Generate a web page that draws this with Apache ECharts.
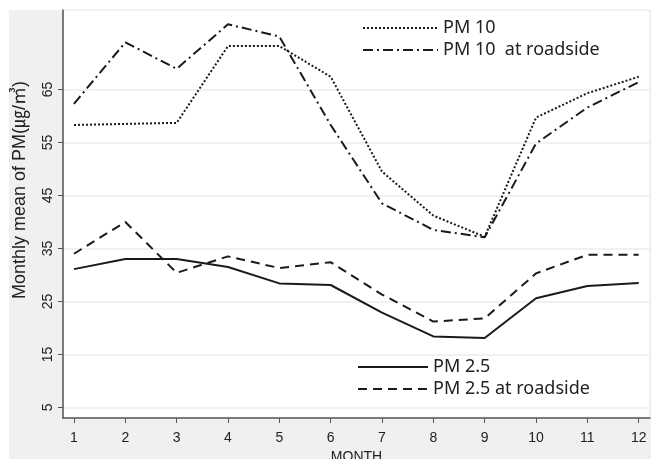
<!DOCTYPE html>
<html>
<head>
<meta charset="utf-8">
<script src="https://cdn.jsdelivr.net/npm/echarts@6/dist/echarts.min.js"></script>
<style>
  html, body { margin: 0; padding: 0; background: #fff; }
  #chart { width: 651px; height: 459px; }
</style>
</head>
<body>
<div id="chart"></div>
<script>
const months = [1, 2, 3, 4, 5, 6, 7, 8, 9, 10, 11, 12];
const yTicks = [5, 15, 25, 35, 45, 55, 65];
const pm10 = [58.3, 58.5, 58.7, 73.2, 73.2, 67.4, 49.5, 41.2, 37.2, 59.7, 64.3, 67.4];
const pm10Road = [62.3, 73.9, 68.9, 77.3, 75.0, 58.3, 43.5, 38.5, 37.1, 54.8, 61.6, 66.4];
const pm25 = [31.1, 33.0, 33.0, 31.5, 28.4, 28.1, 22.9, 18.4, 18.1, 25.6, 27.9, 28.5];
const pm25Road = [34.0, 40.0, 30.4, 33.5, 31.3, 32.4, 26.3, 21.2, 21.8, 30.3, 33.8, 33.8];

const pairs = vals => months.map((m, i) => [m, vals[i]]);
const ink = '#1a1a1a';
const font = 'Liberation Sans, Arial, sans-serif';

function line(name, vals, type) {
  return {
    name: name,
    type: 'line',
    data: pairs(vals),
    symbol: 'none',
    lineStyle: { color: ink, width: 2, type: type },
    itemStyle: { color: ink }
  };
}

// both legends look the same, only place differs
function legendBox(names, left, top, w) {
  return {
    data: names,
    orient: 'vertical',
    left: left, top: top,
    itemWidth: w, itemHeight: 10, itemGap: 4,
    itemStyle: { opacity: 0 },
    textStyle: { fontFamily: 'Noto Sans', fontSize: 18, color: '#222' }
  };
}

const chart = echarts.init(document.getElementById('chart'));
chart.setOption({
  animation: false,
  backgroundColor: '#fff',
  graphic: [{
    type: 'rect',
    z: -10,
    shape: { x: 9, y: 10, width: 642, height: 449 },
    style: { fill: '#f0f0f0' }
  }],
  grid: {
    left: 63, right: 1, top: 10, bottom: 41,
    outerBoundsMode: 'none',
    show: true, backgroundColor: '#fff', borderColor: '#e6e6e6', borderWidth: 1
  },
  legend: [
    legendBox(['PM 10', 'PM 10  at roadside'], 357, 14, 75),
    legendBox(['PM 2.5', 'PM 2.5 at roadside'], 352, 353, 70)
  ],
  xAxis: {
    type: 'value',
    min: 0.786, max: 12.22,
    name: 'MONTH',
    nameLocation: 'middle',
    nameGap: 31,
    nameTextStyle: { fontFamily: font, fontSize: 14, color: '#222' },
    axisLine: { lineStyle: { color: '#555', width: 1.5 } },
    axisTick: { show: true, length: 5, customValues: months, lineStyle: { color: '#555' } },
    axisLabel: { customValues: months, fontFamily: font, fontSize: 14, color: '#222', margin: 13 },
    splitLine: { show: false }
  },
  yAxis: {
    type: 'value',
    min: 3, max: 80,
    name: 'Monthly mean of PM(㎍/㎥)',
    nameLocation: 'middle',
    nameGap: 34,
    nameTextStyle: { fontFamily: 'Liberation Sans, Noto Sans CJK KR', fontSize: 18, color: '#222', padding: [0, 0, 0, 48] },
    axisLine: { show: true, lineStyle: { color: '#555', width: 1.5 } },
    axisTick: { show: true, length: 5, customValues: yTicks, lineStyle: { color: '#555' } },
    axisLabel: { customValues: yTicks, rotate: 90, fontFamily: font, fontSize: 14, color: '#222', margin: 8 },
    splitLine: { show: true, lineStyle: { color: '#ececec', width: 1.5 } }
  },
  series: [
    line('PM 10', pm10, [2, 2]),
    line('PM 10  at roadside', pm10Road, [10, 4, 2, 4]),
    line('PM 2.5', pm25, 'solid'),
    line('PM 2.5 at roadside', pm25Road, [9, 6])
  ]
});
</script>
</body>
</html>
